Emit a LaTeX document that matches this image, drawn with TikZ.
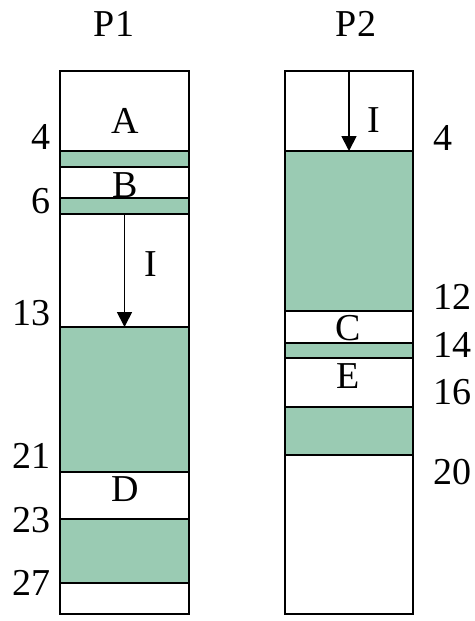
\documentclass[tikz,border=0pt]{standalone}
\usepackage{fontspec}
\setmainfont{Liberation Serif}
\usetikzlibrary{arrows.meta}
\definecolor{bandgreen}{RGB}{154,203,179}
\begin{document}
\begin{tikzpicture}[x=1pt,y=-1pt,
  col/.style={draw=black,line width=1.5pt,fill=white,inner sep=0pt,outer sep=0pt,anchor=north west,minimum width=129pt},
  band/.style={draw=black,line width=2.2pt,fill=bandgreen,inner sep=0pt,outer sep=0pt,anchor=north west,minimum width=129pt},
  lbl/.style={font=\fontsize{38}{38}\selectfont,inner sep=0pt,anchor=base},
  numl/.style={lbl,anchor=base east},
  numr/.style={lbl,anchor=base west},
  arr/.style={-{Triangle[length=15pt,width=15pt]},line width=1.8pt}]
\useasboundingbox (0,0) rectangle (474,621);
% columns
\node[col,minimum height=543pt] (p1) at (60,71) {};
\node[col,minimum height=543pt,minimum width=128pt] (p2) at (285,71) {};
% P1 bands
\node[band,minimum height=16pt] (a1) at (60,151) {};
\node[band,minimum height=16pt] (a2) at (60,198) {};
\node[band,minimum height=145pt] (a3) at (60,327) {};
\node[band,minimum height=64pt] (a4) at (60,519) {};
% P2 bands
\node[band,minimum height=160pt,minimum width=128pt] (b1) at (285,151) {};
\node[band,minimum height=15pt,minimum width=128pt] (b2) at (285,343) {};
\node[band,minimum height=48pt,minimum width=128pt] (b3) at (285,407) {};
% arrows
\draw[arr] (a2.south) -- (a3.north);
\draw[arr] (p2.north) -- (b1.north);
% titles
\node[lbl] (t1) at (114,36) {P1};
\node[lbl] (t2) at (356,36) {P2};
% letters
\node[lbl] (lA) at (125,133) {A};
\node[lbl] (lB) at (125,197) {B};
\node[lbl] (lD) at (125,501) {D};
\node[lbl] (lC) at (348,340) {C};
\node[lbl] (lE) at (348,388) {E};
\node[lbl] (i1) at (150.5,276) {I};
\node[lbl] (i2) at (374,132) {I};
% left numbers
\node[numl] (n4) at (51,149) {4};
\node[numl] (n6) at (51,213) {6};
\node[numl] (n13) at (51,325) {13};
\node[numl] (n21) at (51,468) {21};
\node[numl] (n23) at (51,532) {23};
\node[numl] (n27) at (51,595) {27};
% right numbers
\node[numr] (m4) at (433,150) {4};
\node[numr] (m12) at (433,309) {12};
\node[numr] (m14) at (433,357) {14};
\node[numr] (m16) at (433,404) {16};
\node[numr] (m20) at (433,484) {20};
\end{tikzpicture}
\end{document}
